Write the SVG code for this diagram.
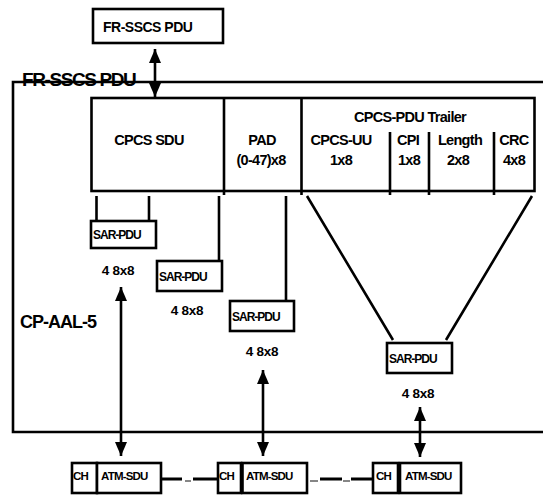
<svg xmlns="http://www.w3.org/2000/svg" width="543" height="495" viewBox="0 0 543 495">
<defs>
<style>
.b{fill:#fff;stroke:#000;stroke-width:2.6}
.l{fill:none;stroke:#000;stroke-width:2.6}
.c{fill:none;stroke:#000;stroke-width:3}
.d{fill:none;stroke:#444;stroke-width:1.3}
.t{font-family:"Liberation Sans",Arial,sans-serif;font-weight:bold;fill:#000}
.m{font-size:14.5px;letter-spacing:-0.7px;text-anchor:middle}
.s{font-size:12px;letter-spacing:-1px}
.n{font-size:13.5px;text-anchor:middle;letter-spacing:-0.3px}
.a{font-size:11.5px;letter-spacing:-0.8px}
</style>
<marker id="ah" viewBox="0 0 14 12" refX="14" refY="6" markerWidth="14" markerHeight="12" markerUnits="userSpaceOnUse" orient="auto-start-reverse">
<path d="M0,0 L14,6 L0,12 z" fill="#000"/>
</marker>
</defs>

<g id="frame">
<path class="l" d="M545,82 H13 V432 H545"/>
<text class="t" x="22" y="86" font-size="19" letter-spacing="-1.4">FR-SSCS PDU</text>
<text class="t" x="20" y="328" font-size="18" letter-spacing="-1">CP-AAL-5</text>
</g>

<g id="top-pdu">
<rect class="b" x="93" y="9" width="130" height="34"/>
<text class="t" x="103" y="32" font-size="14" letter-spacing="-0.5">FR-SSCS PDU</text>
</g>

<g id="cpcs-pdu">
<rect class="b" x="91.5" y="98" width="443" height="93"/>
<path class="l" d="M224,98 V195 M301.5,98 V195 M390,132 V195 M429,132 V195 M494,132 V195"/>
<text class="t m" x="149" y="145">CPCS SDU</text>
<text class="t m" x="262" y="145">PAD</text>
<text class="t m" x="261" y="165">(0-47)x8</text>
<text class="t m" x="410" y="122">CPCS-PDU Trailer</text>
<text class="t m" x="341" y="145">CPCS-UU</text>
<text class="t m" x="341" y="165">1x8</text>
<text class="t m" x="408" y="145">CPI</text>
<text class="t m" x="409" y="165">1x8</text>
<text class="t m" x="460" y="145">Length</text>
<text class="t m" x="458" y="165">2x8</text>
<text class="t m" x="514" y="145">CRC</text>
<text class="t m" x="514" y="165">4x8</text>
</g>

<g id="sar1">
<rect class="b" x="91" y="221" width="65" height="27"/>
<text class="t s" x="93" y="239">SAR-PDU</text>
<text class="t n" x="118" y="275">4 8x8</text>
</g>
<g id="sar2">
<rect class="b" x="157" y="261" width="65" height="30"/>
<text class="t s" x="159" y="281">SAR-PDU</text>
<text class="t n" x="187" y="315">4 8x8</text>
</g>
<g id="sar3">
<rect class="b" x="230" y="301" width="64" height="30"/>
<text class="t s" x="232" y="321">SAR-PDU</text>
<text class="t n" x="262" y="356">4 8x8</text>
</g>
<g id="sar4">
<rect class="b" x="387" y="343" width="65" height="30"/>
<text class="t s" x="389" y="363">SAR-PDU</text>
<text class="t n" x="418" y="398">4 8x8</text>
</g>

<g id="atm1">
<rect class="b" x="72" y="463" width="25" height="30"/>
<rect class="b" x="97" y="463" width="64" height="30"/>
<text class="t a" x="73" y="480">CH</text>
<text class="t a" x="101" y="480">ATM-SDU</text>
</g>
<g id="atm2">
<rect class="b" x="218" y="463" width="23" height="30"/>
<rect class="b" x="242.5" y="463" width="64.5" height="30"/>
<text class="t a" x="219" y="480">CH</text>
<text class="t a" x="246" y="480">ATM-SDU</text>
</g>
<g id="atm3">
<rect class="b" x="373" y="463" width="25" height="30"/>
<rect class="b" x="400" y="463" width="61" height="30"/>
<text class="t a" x="376" y="480">CH</text>
<text class="t a" x="405" y="480">ATM-SDU</text>
</g>

<g id="connectors">
<line class="l" x1="155" y1="49" x2="155" y2="97" marker-start="url(#ah)" marker-end="url(#ah)"/>
<path class="l" d="M96.5,196 V221 M149,196 V221 M219,196 V261 M286,196 V301"/>
<path class="l" d="M307,196 L393,340 M532,196 L446,340"/>
<line class="l" x1="121" y1="287" x2="121" y2="456" marker-start="url(#ah)" marker-end="url(#ah)"/>
<line class="l" x1="263" y1="370" x2="263" y2="456" marker-start="url(#ah)" marker-end="url(#ah)"/>
<line class="l" x1="420" y1="407" x2="420" y2="457" marker-start="url(#ah)" marker-end="url(#ah)"/>
<path class="c" d="M162,479 H182 M193,479 H217 M320,479 H342 M351,479 H372"/>
<line class="d" x1="185" y1="481" x2="191" y2="481"/>
<line class="d" x1="310" y1="481" x2="318" y2="481"/>
<line class="d" x1="343" y1="481" x2="350" y2="481"/>
</g>
</svg>
